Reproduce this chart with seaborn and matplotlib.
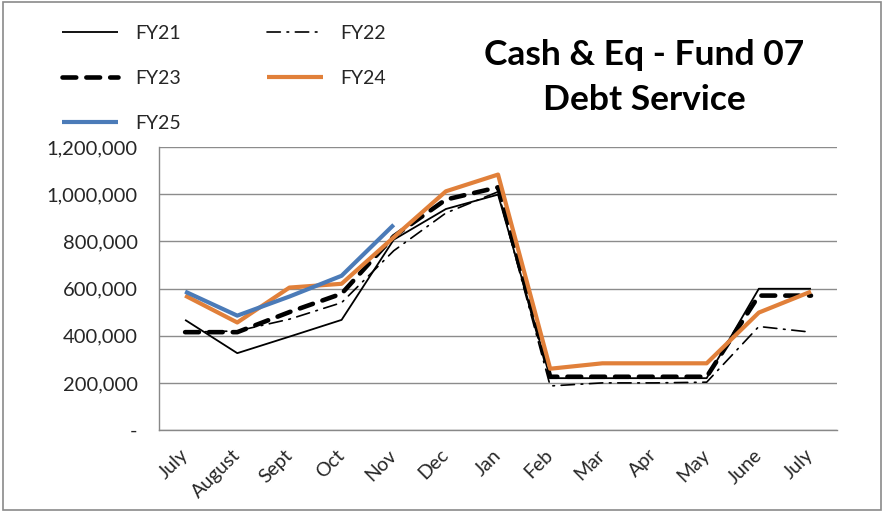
import numpy as np
import pandas as pd
import matplotlib
matplotlib.use("Agg")
import matplotlib.pyplot as plt
from matplotlib.patches import Rectangle
from matplotlib.ticker import FuncFormatter, FixedLocator
import seaborn as sns

months = ["July", "August", "Sept", "Oct", "Nov", "Dec", "Jan", "Feb",
          "Mar", "Apr", "May", "June", "July"]
fy21 = [467000, 326000, 396000, 467000, 807000, 937000, 998000, 220000,
        220000, 220000, 220000, 599000, 599000]
fy22 = [415000, 420000, 470000, 540000, 760000, 920000, 1010000, 187000,
        200000, 200000, 203000, 439000, 415000]
fy23 = [415000, 415000, 500000, 578000, 821000, 977000, 1029000, 226000,
        226000, 226000, 226000, 570000, 570000]
fy24 = [570000, 456000, 604000, 620000, 817000, 1012000, 1083000, 260000,
        283000, 283000, 283000, 498000, 587000]
fy25 = [587000, 485000, 566000, 654000, 870000]

sns.set_style("white")
plt.rcParams["font.family"] = ["Lato", "DejaVu Sans"]

fig = plt.figure(figsize=(8.84, 5.12), dpi=100)
ax = fig.add_axes([0.1799, 0.160, 0.767, 0.553])

x = np.arange(len(months))
series = [
    ("FY21", fy21, dict(color="black", lw=1.3, ls="-")),
    ("FY22", fy22, dict(color="black", lw=1.2, ls=(0, (8, 4, 1, 4)))),
    ("FY23", fy23, dict(color="black", lw=3.3, ls=(0, (3.0, 2.2)))),
    ("FY24", fy24, dict(color="#E1803A", lw=3.0, ls="-")),
    ("FY25", fy25, dict(color="#4B7BB8", lw=3.0, ls="-")),
]
for name, vals, st in series:
    df = pd.DataFrame({"x": x[:len(vals)], "y": vals})
    sns.lineplot(data=df, x="x", y="y", ax=ax, color=st["color"],
                 linewidth=st["lw"], linestyle=st["ls"], label=name,
                 solid_capstyle="butt", dash_capstyle="round")

ax.set_xlim(-0.5, len(months) - 0.5)
ax.set_ylim(0, 1200000)
ax.set_yticks(np.arange(0, 1200001, 200000))
ax.yaxis.set_major_formatter(FuncFormatter(lambda v, p: "-" if v == 0 else f"{int(v):,}"))
ax.set_xticks(x)
ax.set_xticklabels(months, rotation=45, ha="right", va="center",
                   rotation_mode="anchor", fontsize=14)
ax.xaxis.set_minor_locator(FixedLocator(np.arange(-0.5, len(months), 1.0)))
ax.tick_params(axis="x", which="major", length=0, pad=16)
ax.tick_params(axis="x", which="minor", length=5, color="#888888", width=1)
ax.tick_params(axis="y", which="major", length=5, color="#888888", width=1,
               labelsize=14.5, pad=10.5)
ax.set_xlabel("")
ax.set_ylabel("")
ax.grid(axis="y", color="#8c8c8c", lw=1)
ax.set_axisbelow(True)
for s in ["top", "right"]:
    ax.spines[s].set_visible(False)
for s in ["left", "bottom"]:
    ax.spines[s].set_color("#888888")
    ax.spines[s].set_linewidth(1)

h, l = ax.get_legend_handles_labels()
order = [0, 2, 4, 1, 3]
ax.legend([h[i] for i in order], [l[i] for i in order], ncol=2,
          loc="upper left", bbox_to_anchor=(0.0503, 0.986),
          bbox_transform=fig.transFigure, frameon=False, fontsize=14,
          handlelength=2.9, labelspacing=1.45, columnspacing=4.4,
          handletextpad=0.87)

fig.text(0.7285, 0.8926, "Cash & Eq - Fund 07", ha="center", va="center",
         fontsize=25.5, fontweight="bold", color="black")
fig.text(0.7285, 0.8047, "Debt Service", ha="center", va="center",
         fontsize=25.5, fontweight="bold", color="black")

fig.patches.append(Rectangle((0.003, 0.004), 0.994, 0.992, transform=fig.transFigure,
                             fill=False, edgecolor="#8a8a8a", lw=1.2))

fig.savefig("out.png", dpi=100)
